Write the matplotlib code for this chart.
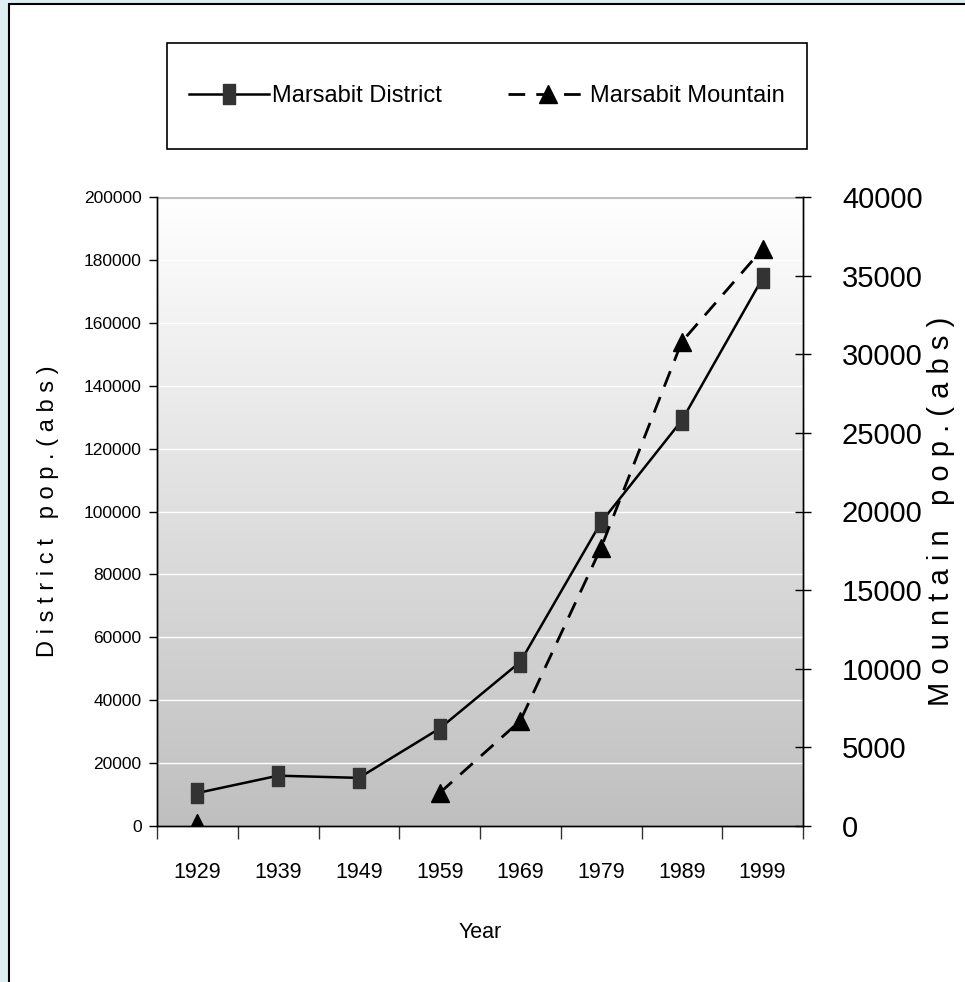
import numpy as np
import matplotlib.pyplot as plt
from matplotlib.patches import Rectangle
from matplotlib.path import Path

plt.rcParams['font.family'] = ['Liberation Sans', 'DejaVu Sans']

years = ['1929', '1939', '1949', '1959', '1969', '1979', '1989', '1999']
district_pop = [10500, 16000, 15300, 31000, 52200, 96600, 129000, 174200]
mountain_pop = [200, np.nan, np.nan, 2100, 6700, 17700, 30800, 36700]

fig = plt.figure(figsize=(9.65, 9.82), dpi=100, facecolor='#ddeff3')

# white panel with black left/top edge
fig.patches.append(Rectangle((9 / 965, -0.1), 1.2, 1.1 - 4 / 982,
                             transform=fig.transFigure, facecolor='white',
                             edgecolor='black', linewidth=1.5, zorder=-5))

ax = fig.add_axes([157 / 965, 156 / 982, 646 / 965, 629 / 982])
ax.patch.set_alpha(0)
x = np.arange(len(years))

# grey gradient background of the plot area (white at top, light grey below)
shade = np.linspace(1.0, 0.75, 256)
grad = np.repeat(shade[:, None, None], 3, axis=2)
ax.imshow(grad, extent=[-0.5, 7.5, 0, 200000], aspect='auto',
          origin='upper', zorder=0)

ax.set_xlim(-0.5, 7.5)
ax.set_ylim(0, 200000)
ax.set_yticks(np.arange(0, 200001, 20000))
for v in np.arange(20000, 200000, 20000):
    ax.axhline(v, color='white', lw=1, zorder=1)
ax.axhline(200000, color='#c0c0c0', lw=3, zorder=1)

rect = Path([(-0.6, -1), (0.6, -1), (0.6, 1), (-0.6, 1), (-0.6, -1)],
            [Path.MOVETO, Path.LINETO, Path.LINETO, Path.LINETO, Path.CLOSEPOLY])
l1, = ax.plot(x, district_pop, color='black', lw=1.8, marker=rect, markersize=14,
              markerfacecolor='#333333', markeredgecolor='#333333', zorder=3,
              label='Marsabit District')

ax2 = ax.twinx()
ax2.set_ylim(0, 40000)
ax2.set_yticks(np.arange(0, 40001, 5000))
l2, = ax2.plot(x, mountain_pop, color='black', lw=2, dashes=(6, 4), marker='^',
               markersize=13, markerfacecolor='black', markeredgecolor='black',
               zorder=3, label='Marsabit Mountain')

# category axis: ticks between the years, labels in the middle
ax.set_xticks(np.arange(-0.5, 8, 1))
ax.set_xticklabels([])
ax.set_xticks(x, minor=True)
ax.set_xticklabels(years, minor=True, fontsize=15.5)
ax.tick_params(axis='x', which='major', length=9, width=1, color='#333333')
ax.tick_params(axis='x', which='minor', length=0, pad=26)
ax.tick_params(axis='y', length=6, width=1, labelsize=12.5, pad=5)
ax2.tick_params(axis='y', direction='inout', length=12, width=1, labelsize=21, pad=22)

for a in (ax, ax2):
    a.spines['top'].set_visible(False)
    for s in ('left', 'right', 'bottom'):
        a.spines[s].set_linewidth(1)
        a.spines[s].set_color('black')

ax.set_xlabel('Year', fontsize=15.5, labelpad=28)
ax.set_ylabel('D i s t r i c t   p o p . ( a b s )', fontsize=17, labelpad=18)
ax2.set_ylabel('M o u n t a i n   p o p . ( a b s )', fontsize=21, rotation=90,
               labelpad=3)

leg = fig.legend(handles=[l1, l2], loc='center', ncol=2,
                 bbox_to_anchor=(167 / 965, 1 - 149 / 982, 640 / 965, 106 / 982),
                 fontsize=17, frameon=False, handlelength=3.4,
                 handletextpad=0.1, columnspacing=2.8, borderaxespad=0)
fig.patches.append(Rectangle((167 / 965, 1 - 149 / 982), 640 / 965, 106 / 982,
                             transform=fig.transFigure, facecolor='none',
                             edgecolor='black', linewidth=1.2, zorder=2))

fig.savefig('out.png', dpi=100, facecolor=fig.get_facecolor())
